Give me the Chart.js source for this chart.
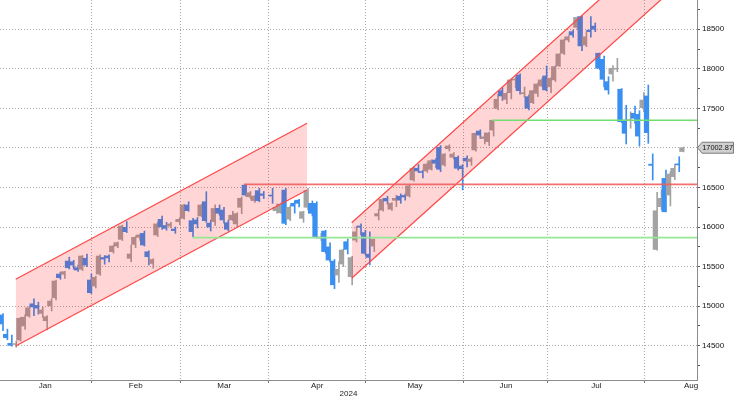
<!DOCTYPE html>
<html><head><meta charset="utf-8">
<script src="https://cdn.jsdelivr.net/npm/chart.js@4.4.1/dist/chart.umd.min.js"></script>
<style>html,body{margin:0;padding:0;background:#fff;overflow:hidden}canvas{display:block}</style>
</head><body>
<canvas id="c" width="734" height="399" style="width:734px;height:399px"></canvas>
<script>
// ---------- DATA (daily candles, first entry = 29 Dec 2023, index -1) ----------
const dates = ['2023-12-29',
 '01-02','01-03','01-04','01-05','01-08','01-09','01-10','01-11','01-12','01-16','01-17','01-18','01-19','01-22','01-23','01-24','01-25','01-26','01-29','01-30','01-31',
 '02-01','02-02','02-05','02-06','02-07','02-08','02-09','02-12','02-13','02-14','02-15','02-16','02-20','02-21','02-22','02-23','02-26','02-27','02-28','02-29',
 '03-01','03-04','03-05','03-06','03-07','03-08','03-11','03-12','03-13','03-14','03-15','03-18','03-19','03-20','03-21','03-22','03-25','03-26','03-27','03-28',
 '04-01','04-02','04-03','04-04','04-05','04-08','04-09','04-10','04-11','04-12','04-15','04-16','04-17','04-18','04-19','04-22','04-23','04-24','04-25','04-26','04-29','04-30',
 '05-01','05-02','05-03','05-06','05-07','05-08','05-09','05-10','05-13','05-14','05-15','05-16','05-17','05-20','05-21','05-22','05-23','05-24','05-28','05-29','05-30','05-31',
 '06-03','06-04','06-05','06-06','06-07','06-10','06-11','06-12','06-13','06-14','06-17','06-18','06-20','06-21','06-24','06-25','06-26','06-27','06-28',
 '07-01','07-02','07-03','07-05','07-08','07-09','07-10','07-11','07-12','07-15','07-16','07-17','07-18','07-19','07-22','07-23','07-24','07-25','07-26','07-29','07-30','07-31',
 '08-01','08-02','08-05','08-06','08-07','08-08','08-09','08-12','08-13'];

const opens = [15100,
 14889,14645,14530,14515,14573,14750,14876,15030,15010,14910,14817,15003,15107,15406,15403,15571,15562,15487,15466,15605,15331,
 15255,15406,15615,15635,15689,15760,15845,15997,15605,15780,15870,15920,15688,15540,15900,16098,16020,16013,15975,16068,
 16111,16279,16081,16090,16140,16320,16050,16068,16237,16215,16055,16090,16040,16250,16530,16383,16334,16460,16420,null,
 16400,16207,16180,16467,16100,16300,16340,16110,16250,16300,16300,15860,15950,15750,15570,15394,15533,15815,15373,15835,16014,15930,
 15658,15760,16140,16215,16363,16225,16338,16390,16400,16393,16595,16743,16700,16708,16730,16847,17008,16785,16990,16882,16882,16772,
 16870,16830,16975,17214,17120,17080,17225,17501,17724,17615,17699,17858,17922,17685,17648,17572,17690,17783,17910,
 17774,17860,18036,18196,18365,18470,18525,18660,18300,18490,18540,18197,18120,17838,17935,17995,17742,17353,17345,17438,17425,17509,
 17657,16795,15717,16258,16615,16405,16637,16790,16955];

const highs = [15112,
 14905,14710,14636,14560,14860,14890,15000,15092,15050,14990,14880,15095,15330,15430,15440,15620,15580,15520,15640,15660,15406,
 15380,15650,15640,15650,15770,15810,16025,16070,15773,15880,15910,15950,15700,15600,16060,16140,16060,16060,16000,16120,
 16290,16320,16110,16120,16290,16447,16090,16280,16280,16250,16090,16200,16180,16380,16540,16450,16400,16490,16450,null,
 16490,16290,16310,16490,16270,16330,16350,16200,16490,16330,16320,15920,15960,15800,15590,15560,15720,15850,15630,16005,16040,15960,
 15940,15850,16225,16360,16390,16310,16402,16420,16420,16530,16760,16790,16720,16810,16850,16870,17030,16930,17040,16940,16900,16790,
 16900,16880,17190,17230,17190,17200,17350,17680,17760,17700,17870,17890,17936,17770,17670,17730,17820,17880,18036,
 17890,18040,18190,18370,18420,18490,18660,18670,18470,18660,18580,18200,18160,17900,18040,18133,17750,17540,17455,17530,17470,17699,
 17796,16925,16440,16470,16720,16700,16790,16890,17010];

const lows = [14990,
 14690,14575,14495,14480,14560,14705,14860,14880,14900,14860,14700,14940,15080,15340,15350,15470,15470,15440,15450,15500,15160,
 15230,15390,15530,15560,15670,15740,15830,15930,15561,15740,15830,15760,15520,15480,15880,15970,15960,15990,15920,16030,
 16100,16200,15880,15990,16130,16060,15950,16020,16150,16050,15950,16080,16000,16170,16390,16360,16310,16320,16360,null,
 16300,16175,16170,16030,16080,16175,16255,16060,16220,16140,15860,15830,15670,15560,15222,15300,15500,15660,15270,15810,15900,15650,
 15520,15690,16090,16200,16290,16210,16257,16300,16340,16380,16580,16690,16620,16690,16720,16750,16700,16770,16960,16860,16720,16470,
 16760,16780,16960,17120,17050,17030,17150,17480,17600,17560,17620,17760,17680,17640,17480,17560,17650,17770,17720,
 17700,17840,18030,18180,18340,18400,18500,18230,18280,18400,18470,17990,17770,17680,17845,17964,17320,17050,17250,17310,17024,17460,
 17058,16595,15708,16217,16190,16267,16600,16700,16950];

const closes = [15011,
 14775,14602,14505,14522,14847,14860,14980,14990,14975,14952,14867,15065,15318,15360,15436,15486,15520,15457,15634,15520,15170,
 15365,15634,15595,15610,15760,15803,16013,15942,15660,15870,15900,15773,15625,15590,16040,16003,15983,16040,15955,16098,
 16279,16207,15942,16040,16279,16081,16000,16235,16174,16090,15972,16150,16170,16364,16405,16434,16392,16334,16400,null,
 16392,16250,16290,16047,16250,16265,16300,16194,16460,16174,15880,15875,15690,15583,15270,15466,15710,15718,15614,15940,15997,15668,
 15616,15845,16170,16350,16330,16300,16363,16340,16380,16520,16743,16710,16690,16795,16839,16806,16730,16923,17025,16923,16743,16738,
 16835,16860,17185,17163,17140,17190,17350,17615,17657,17690,17860,17866,17724,17692,17501,17724,17808,17860,17733,
 17880,18028,18188,18365,18405,18428,18650,18290,18405,18470,18500,18007,17868,17733,18007,17999,17332,17185,17352,17375,17150,17606,
 17193,16780,16206,16363,16193,16670,16742,16786,17002.87];

// month axis: names and month-end boundaries (trading-day index units)
const monthNames = ['Jan','Feb','Mar','Apr','May','Jun','Jul','Aug'];
const monthBounds = [-0.85, 20.14, 40.16, 60.18, 82.24, 104.4, 123.4, 145.36, 166.2];
const yearLabel = '2024';

// value axis ticks
const yTickValues = [14250,14500,14750,15000,15250,15500,15750,16000,16250,16500,16750,17000,17250,17500,17750,18000,18250,18500,18750];

// trend channels: [start index, end index], lower and upper edge values
const ch1Index = [2.99, 68.9];
const ch1Lower = [14497, 16469];
const ch1Upper = [15340, 17311];
const ch2Index = [79.0, 157.5];
const ch2Lower = [15353, 19302];
const ch2Upper = [16055, 20004];

// horizontal levels
const redLevel = 16540, redFrom = 54.6;
const greenLevels = [15866, 17350];
const greenFrom = [43.0, 110.8];
const levelTo = 157.5;
const lastPrice = 17002.87;

// ---------- CHART ----------
Chart.defaults.font.family = "'Liberation Sans', Arial, sans-serif";
Chart.defaults.font.size = 8;
Chart.defaults.color = '#111';

const UP = '#a3a3a3', DOWN = '#3a8ff0';
const candles = dates.map((d, k) => opens[k] == null ? null :
  ({x: k - 1, o: opens[k], h: highs[k], l: lows[k], c: closes[k]})).filter(Boolean);
const colorOf = i => candles[i].c >= candles[i].o ? UP : DOWN;

const monthMids = monthNames.map((m, k) => (monthBounds[k] + monthBounds[k + 1]) / 2);
const innerBounds = monthBounds.slice(1, -1);
const isBound = v => innerBounds.some(b => Math.abs(b - v) < 1e-6);
const XMIN = -0.566, XMAX = 157.13;

const lineDs = (pts, color, width, extra) => Object.assign({
  type: 'line', data: pts, borderColor: color, borderWidth: width,
  pointRadius: 0, fill: false, tension: 0, xAxisID: 'x', yAxisID: 'y'
}, extra || {});

const lastBox = {
  id: 'lastBox',
  afterDraw(chart) {
    const ctx = chart.ctx, y = chart.scales.y.getPixelForValue(lastPrice);
    const x0 = chart.chartArea.right + 0.5, h = 5.5;
    ctx.save();
    ctx.beginPath();
    ctx.moveTo(x0, y);
    ctx.lineTo(x0 + 4.5, y - h);
    ctx.lineTo(733.5, y - h);
    ctx.lineTo(733.5, y + h);
    ctx.lineTo(x0 + 4.5, y + h);
    ctx.closePath();
    ctx.fillStyle = '#cfcfcf';
    ctx.fill();
    ctx.strokeStyle = '#7d7d7d';
    ctx.lineWidth = 1;
    ctx.stroke();
    ctx.fillStyle = '#111';
    ctx.font = "7.4px 'Liberation Sans', Arial, sans-serif";
    ctx.textBaseline = 'middle';
    ctx.textAlign = 'right';
    ctx.fillText(lastPrice.toFixed(2), 733, y + 0.5);
    ctx.restore();
  }
};

new Chart(document.getElementById('c'), {
  type: 'bar',
  data: {
    datasets: [
      lineDs([{x: redFrom, y: redLevel}, {x: levelTo, y: redLevel}], 'rgba(240,95,95,0.9)', 1.6, {order: 0}),
      lineDs([{x: greenFrom[0], y: greenLevels[0]}, {x: levelTo, y: greenLevels[0]}], '#95e795', 1.6, {order: 0}),
      lineDs([{x: greenFrom[1], y: greenLevels[1]}, {x: levelTo, y: greenLevels[1]}], '#72de72', 1.4, {order: 0}),
      lineDs([{x: ch1Index[0], y: ch1Upper[0]}, {x: ch1Index[1], y: ch1Upper[1]}], '#ff4646', 1.2,
        {order: 2, fill: '+1', backgroundColor: 'rgba(255,0,0,0.165)'}),
      lineDs([{x: ch1Index[0], y: ch1Lower[0]}, {x: ch1Index[1], y: ch1Lower[1]}], '#ff4646', 1.2, {order: 1}),
      lineDs([{x: ch2Index[0], y: ch2Upper[0]}, {x: ch2Index[1], y: ch2Upper[1]}], '#ff4646', 1.2,
        {order: 2, fill: '+1', backgroundColor: 'rgba(255,0,0,0.165)'}),
      lineDs([{x: ch2Index[0], y: ch2Lower[0]}, {x: ch2Index[1], y: ch2Lower[1]}], '#ff4646', 1.2, {order: 1}),
      {
        type: 'bar', order: 3, xAxisID: 'x', yAxisID: 'y',
        data: candles.map(c => ({x: c.x, y: [c.o, c.c]})),
        backgroundColor: ctx => colorOf(ctx.dataIndex),
        barThickness: 3.6, borderWidth: 0, minBarLength: 1
      },
      {
        type: 'bar', order: 4, xAxisID: 'xw', yAxisID: 'y',
        data: candles.map(c => ({x: c.x, y: [c.l, c.h]})),
        backgroundColor: ctx => colorOf(ctx.dataIndex),
        barThickness: 1, borderWidth: 0
      }
    ]
  },
  options: {
    responsive: false, animation: false, devicePixelRatio: 1, events: [],
    layout: {padding: 0},
    plugins: {legend: {display: false}, tooltip: {enabled: false}},
    scales: {
      x: {
        type: 'linear', position: 'bottom', min: XMIN, max: XMAX, offset: false,
        afterBuildTicks: s => { s.ticks = innerBounds.concat(monthMids).sort((a, b) => a - b).map(v => ({value: v})); },
        afterFit: s => { s.height = 19; s.paddingLeft = 0; s.paddingRight = 0; },
        ticks: {
          autoSkip: false, maxRotation: 0, padding: -1, color: '#222',
          font: {size: 8, lineHeight: 1},
          callback: v => { const k = monthMids.findIndex(m => Math.abs(m - v) < 1e-6); return k >= 0 ? monthNames[k] : ''; }
        },
        grid: {
          offset: false, drawOnChartArea: true, tickLength: 3, lineWidth: 1,
          color: ctx => (ctx.tick && isBound(ctx.tick.value)) ? '#a9a9a9' : 'rgba(0,0,0,0)',
          tickColor: ctx => (ctx.tick && isBound(ctx.tick.value)) ? '#777' : 'rgba(0,0,0,0)'
        },
        border: {display: true, color: '#8c8c8c', width: 1, dash: [1, 2]},
        title: {display: true, text: yearLabel, color: '#222', font: {size: 8, lineHeight: 1}, padding: {top: 0, bottom: 1}}
      },
      xw: {type: 'linear', display: false, min: XMIN, max: XMAX, offset: false},
      y: {
        type: 'linear', position: 'right', min: 14067, max: 18870, stacked: false,
        afterBuildTicks: s => { s.ticks = yTickValues.map(v => ({value: v})); },
        afterFit: s => { s.width = 37; s.paddingTop = 0; s.paddingBottom = 0; },
        ticks: {
          autoSkip: false, padding: 2, color: '#111', font: {size: 8, lineHeight: 1},
          callback: v => (v % 500 === 0 ? String(v) : '')
        },
        grid: {
          drawOnChartArea: true, tickLength: 3, lineWidth: 1,
          color: ctx => (ctx.tick && ctx.tick.value % 500 === 0) ? '#a9a9a9' : 'rgba(0,0,0,0)',
          tickColor: '#555'
        },
        border: {display: true, color: '#8c8c8c', width: 1, dash: [1, 2]}
      }
    }
  },
  plugins: [lastBox]
});
</script>
</body></html>
